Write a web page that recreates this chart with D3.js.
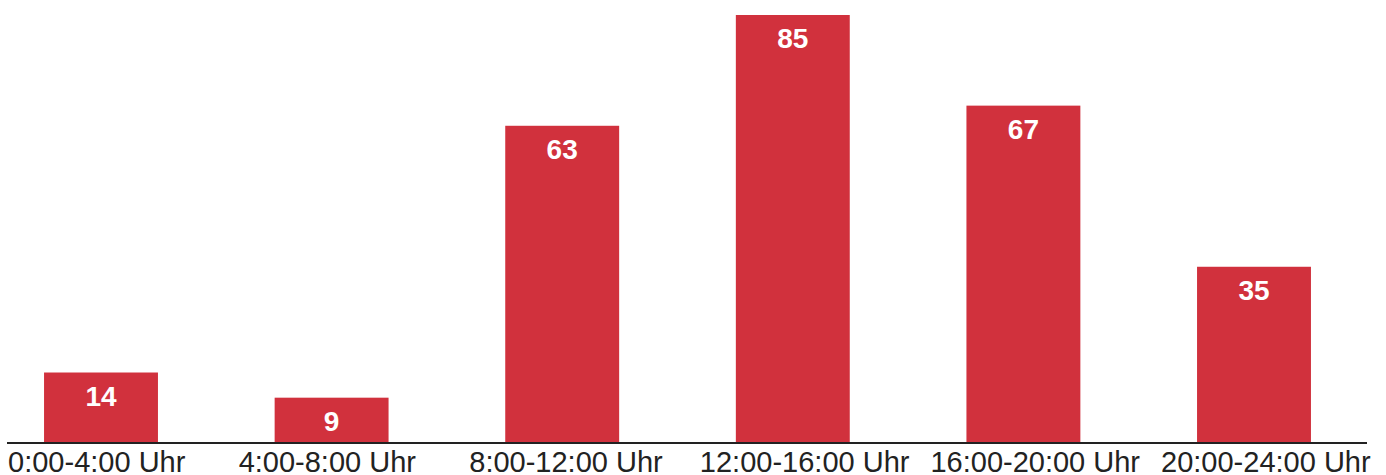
<!DOCTYPE html>
<html>
<head>
<meta charset="utf-8">
<script src="https://cdn.jsdelivr.net/npm/d3@7"></script>
<style>
body{margin:0;background:#fff}
svg{display:block}
</style>
</head>
<body>
<svg id="chart" width="1386" height="475"></svg>
<script>
const categories=["0:00-4:00 Uhr","4:00-8:00 Uhr","8:00-12:00 Uhr","12:00-16:00 Uhr","16:00-20:00 Uhr","20:00-24:00 Uhr"]
const values=[14,9,63,85,67,35]

const svg=d3.select("#chart")
const base=443

const x=d3.scaleBand()
	.domain(categories)
	.range([-14.3,1369.3])
	.paddingInner(0.506)
	.paddingOuter(0.253)

const y=d3.scaleLinear().domain([0,85]).range([base,15])

svg.selectAll("rect.bar")
	.data(values)
	.join("rect")
	.attr("class","bar")
	.attr("x",(d,i)=>x(categories[i]))
	.attr("width",x.bandwidth())
	.attr("y",d=>y(d))
	.attr("height",d=>base-y(d))
	.attr("fill","#d1313d")

// value labels inside bars
svg.selectAll("text.val")
	.data(values)
	.join("text")
	.attr("class","val")
	.attr("x",(d,i)=>x(categories[i])+x.bandwidth()/2)
	.attr("y",d=>y(d)+33)
	.attr("text-anchor","middle")
	.attr("fill","#fff")
	.attr("font-family","Liberation Sans, Arial, sans-serif")
	.attr("font-weight","bold")
	.attr("font-size",28)
	.text(d=>d)

// x axis, labels start a bit left of each bar
const ax=svg.append("g").attr("transform",`translate(0,${base})`)
	.call(d3.axisBottom(x).tickSize(0).tickPadding(0))
ax.select(".domain").remove()
ax.append("line").attr("x1",7).attr("x2",1367).attr("y1",0).attr("y2",0)
	.attr("stroke","#222").attr("stroke-width",2)
ax.selectAll(".tick text")
	.attr("dy",null)
	.attr("y",28.5)
	.attr("x",-x.bandwidth()/2-36)
	.attr("text-anchor","start")
	.attr("fill","#222")
	.attr("font-family","Liberation Sans, Arial, sans-serif")
	.attr("font-size",29)
</script>
</body>
</html>
